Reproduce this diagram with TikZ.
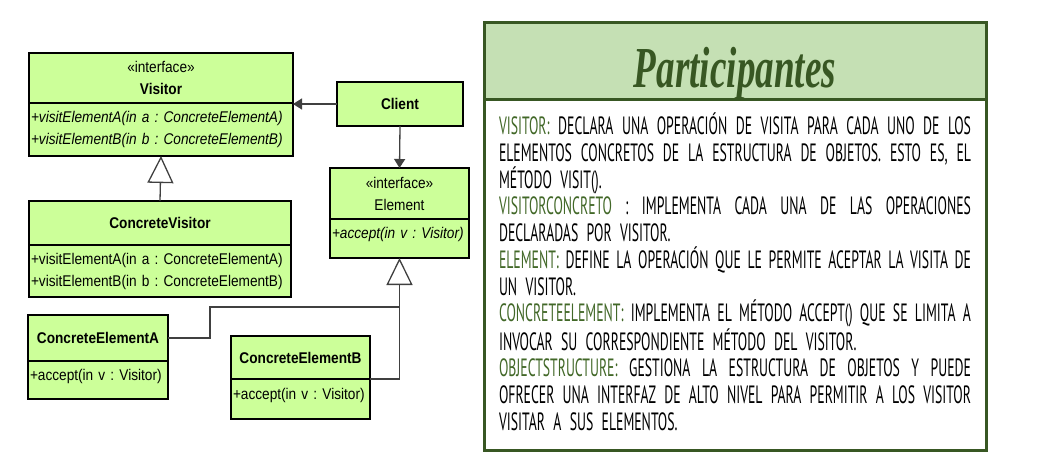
\documentclass[tikz,border=0pt]{standalone}
\usepackage{fontspec}
\setmainfont{Liberation Sans}
\newfontfamily\umlfont[FakeStretch=0.88]{Liberation Sans}
\newfontfamily\notefont[FakeStretch=0.55]{PT Sans}
\newfontfamily\titlefont[FakeStretch=0.64]{Liberation Serif}
\usepackage{xcolor}
\usepackage{tikz}
\usetikzlibrary{positioning,arrows.meta}
\tikzset{every picture/.style={line width=0.75pt}}
\frenchspacing
\definecolor{umlgreen}{RGB}{204,255,153}
\definecolor{panelfill}{RGB}{197,224,180}
\definecolor{paneldark}{RGB}{56,87,35}
\definecolor{keygreen}{RGB}{66,104,40}
\newcommand{\umlsize}{\umlfont\fontsize{15.5}{22}\selectfont}
\newcommand{\notesize}{\notefont\fontsize{25}{26.7}\selectfont}
\newcommand{\key}[1]{\textcolor{keygreen}{#1}}
\newcommand{\fullline}[1]{\leavevmode\hbox to 472pt{\spaceskip=4pt plus 1fil minus 2pt\relax #1}}

\begin{document}
\begin{tikzpicture}[x=1pt,y=-1pt,
  classbox/.style={draw=black, line width=1.4pt, fill=umlgreen, font=\umlsize, inner sep=2pt, outer sep=0pt},
  classhead/.style={classbox, align=center, anchor=north west},
  classops/.style={classbox, align=left},
  link/.style={draw=black!75, line width=1.3pt},
  realize/.style={link, -{Triangle[open, length=27pt, width=26pt, line width=1.3pt]}},
  uses/.style={link, -{Triangle[length=9pt, width=11pt]}},
  panelbox/.style={draw=paneldark, line width=3pt, outer sep=0pt}]
\useasboundingbox (0,0) rectangle (1043,465);
% visitor side
\node[classhead, minimum width=264pt, minimum height=50pt] (visitor) at (29,53) {«interface»\\\textbf{Visitor}};
\node[classops, below=0pt of visitor, minimum width=264pt, minimum height=53pt, text width=260pt, font=\umlsize\itshape] (visitorops) {+visitElementA(in a : ConcreteElementA)\\+visitElementB(in b : ConcreteElementB)};
\node[classhead, minimum width=262pt, minimum height=44pt] (cvisitor) at (29,201) {\textbf{ConcreteVisitor}};
\node[classops, below=0pt of cvisitor, minimum width=262pt, minimum height=52pt, text width=258pt] (cvisitorops) {+visitElementA(in a : ConcreteElementA)\\+visitElementB(in b : ConcreteElementB)};
%
\node[classhead, minimum width=126pt, minimum height=44pt] (client) at (337,82) {\textbf{Client}};
% element side
\node[classhead, minimum width=139pt, minimum height=51pt] (element) at (330,168) {«interface»\\Element};
\node[classops, below=0pt of element, minimum width=139pt, minimum height=39pt, text width=135pt, text depth=11pt, font=\umlsize\itshape] (elementops) {+accept(in v : Visitor)};
\node[classhead, minimum width=140pt, minimum height=46pt] (cea) at (28,315) {\textbf{ConcreteElementA}};
\node[classops, below=0pt of cea, minimum width=140pt, minimum height=38pt, text width=136pt, text depth=11pt] (ceaops) {+accept(in v : Visitor)};
\node[classhead, minimum width=139pt, minimum height=43pt] (ceb) at (231,336) {\textbf{ConcreteElementB}};
\node[classops, below=0pt of ceb, minimum width=139pt, minimum height=40pt, text width=135pt, text depth=11pt] (cebops) {+accept(in v : Visitor)};
%
\coordinate (joint) at (400,307);
\draw[uses] (client.west) -- (client.west -| visitor.east);
\draw[uses] (client.south) -- (element.north);
\draw[realize] (cvisitor.north) -- (visitorops.south);
\draw[realize] (ceb.south east) -| (elementops.south);
\draw[link] (cea.east) -- ++(42,0) |- (joint);
% participantes
\node[panelbox, fill=panelfill, anchor=north west, minimum width=502pt, minimum height=77pt, text height=52pt, text depth=0pt, text=paneldark, font=\titlefont\bfseries\itshape\fontsize{58}{58}\selectfont] (partshead) at (484,23) {Participantes};
\node[panelbox, below=0pt of partshead, minimum width=502pt, minimum height=350pt, text width=472pt, inner xsep=15pt, text depth=302pt, align=left, font=\notesize] (partsbody) {%
\fullline{\key{VISITOR:} DECLARA UNA OPERACIÓN DE VISITA PARA CADA UNO DE LOS}\\
\fullline{ELEMENTOS CONCRETOS DE LA ESTRUCTURA DE OBJETOS. ESTO ES, EL}\\
MÉTODO VISIT().\\
\fullline{\key{VISITORCONCRETO} : IMPLEMENTA CADA UNA DE LAS OPERACIONES}\\
DECLARADAS POR VISITOR.\\
\fullline{\key{ELEMENT:} DEFINE LA OPERACIÓN QUE LE PERMITE ACEPTAR LA VISITA DE}\\
UN VISITOR.\\
\fullline{\key{CONCRETEELEMENT:} IMPLEMENTA EL MÉTODO ACCEPT() QUE SE LIMITA A}\\
INVOCAR SU CORRESPONDIENTE MÉTODO DEL VISITOR.\\
\fullline{\key{OBJECTSTRUCTURE:} GESTIONA LA ESTRUCTURA DE OBJETOS Y PUEDE}\\
\fullline{OFRECER UNA INTERFAZ DE ALTO NIVEL PARA PERMITIR A LOS VISITOR}\\
VISITAR A SUS ELEMENTOS.};
\end{tikzpicture}
\end{document}
